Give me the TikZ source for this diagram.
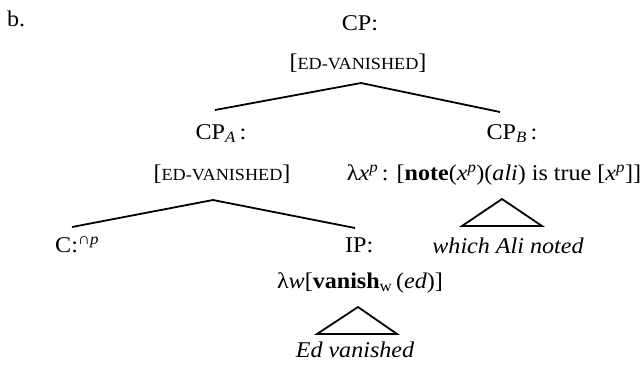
\documentclass[tikz,border=0pt]{standalone}
\usepackage{fontspec}
\setmainfont[FakeStretch=1.07]{Liberation Serif}
\newcommand\scaps[1]{{\fontsize{17}{19}\selectfont #1}}
\begin{document}
\begin{tikzpicture}[x=1pt,y=-1pt,
  txt/.style={anchor=base,inner sep=0pt,font=\fontsize{22.5}{26}\selectfont},
  branch/.style={line width=1.8pt,line join=miter}]
\useasboundingbox (0,0) rectangle (644,365);
% texts
\node[txt,anchor=base west] (b) at (7,26) {b.};
\node[txt] (cp) at (360,30) {CP:};
\node[txt] (cpsem) at (358,69) {[\scaps{ED-VANISHED}]};
\node[txt] (cpa) at (221,139) {CP\textsubscript{\textit{A}}\,:};
\node[txt] (cpasem) at (222,180) {[\scaps{ED-VANISHED}]};
\node[txt] (cpb) at (512,139) {CP\textsubscript{\textit{B}}\,:};
\node[txt] (cpbsem) at (494,180) {λ\textit{x}\textsuperscript{\textit{p}}\,: [\textbf{note}(\textit{x}\textsuperscript{\textit{p}})(\textit{ali}) is true [\textit{x}\textsuperscript{\textit{p}}]]};
\node[txt,anchor=base west] (c) at (55,252) {C:\textsuperscript{∩\textit{p}}};
\node[txt,anchor=base west] (ip) at (345,252) {IP:};
\node[txt] (which) at (508,253) {\textit{which Ali noted}};
\node[txt] (ipsem) at (360,288) {λ\textit{w}[\textbf{vanish}\textsubscript{w}\,(\textit{ed})]};
\node[txt] (ed) at (355,357) {\textit{Ed vanished}};
% branch points
\coordinate (a0) at (361,83);
\coordinate (a1) at (215,110);
\coordinate (a2) at (500,112);
\coordinate (l0) at (213,200);
\coordinate (l1) at (72,227);
\coordinate (l2) at (355,228);
\coordinate (r0) at (502,199);
\coordinate (r1) at (462,226);
\coordinate (r2) at (542,226);
\coordinate (e0) at (358,307);
\coordinate (e1) at (317,334);
\coordinate (e2) at (397,334);
\draw[branch] (a1) -- (a0) -- (a2);
\draw[branch] (l1) -- (l0) -- (l2);
\draw[branch] (r0) -- (r1) -- (r2) -- cycle;
\draw[branch] (e0) -- (e1) -- (e2) -- cycle;
\end{tikzpicture}
\end{document}
